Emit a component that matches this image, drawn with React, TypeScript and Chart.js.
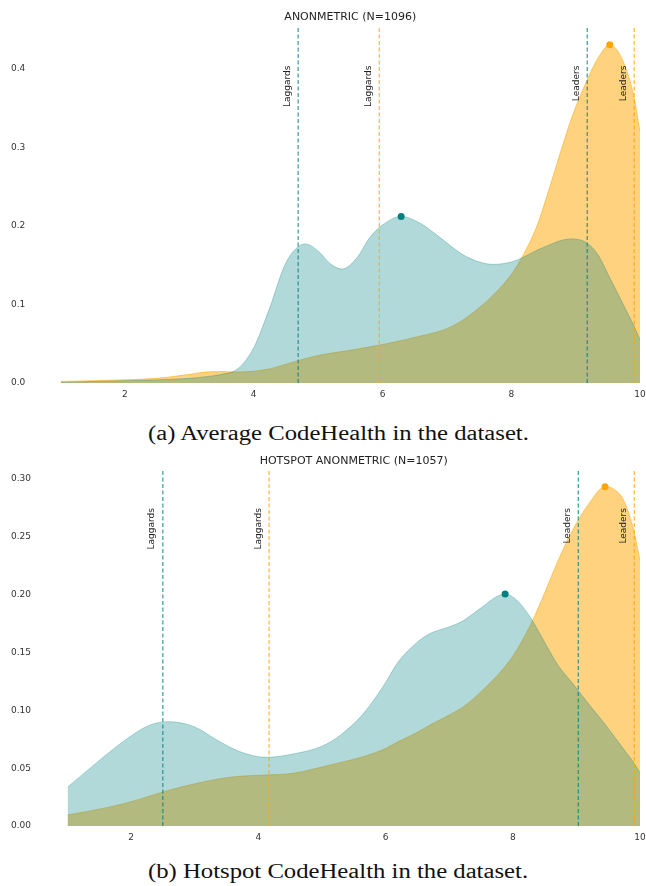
import React, { useEffect, useRef } from 'react';
import { Chart, registerables } from 'chart.js';

Chart.register(...registerables);

// ---------- (a) Average CodeHealth ----------
const aTitle = 'ANONMETRIC (N=1096)';
const aX = [1, 1.5, 2, 2.5, 3, 3.25, 3.5, 3.75, 4, 4.25, 4.5, 4.8, 5.0, 5.2, 5.37, 5.6, 5.8, 6.0, 6.29, 6.55, 6.85, 7.05, 7.3, 7.72, 8.0, 8.16, 8.4, 8.6, 8.8, 8.94, 9.18, 9.35, 9.53, 9.74, 9.91, 10];
const aTeal = [0.001, 0.002, 0.003, 0.004, 0.006, 0.008, 0.011, 0.018, 0.045, 0.096, 0.153, 0.177, 0.168, 0.151, 0.145, 0.159, 0.185, 0.201, 0.212, 0.205, 0.188, 0.175, 0.161, 0.151, 0.154, 0.159, 0.169, 0.176, 0.182, 0.1834, 0.178, 0.163, 0.134, 0.1, 0.072, 0.055];
const aOrange = [0.002, 0.003, 0.004, 0.006, 0.011, 0.014, 0.0145, 0.014, 0.015, 0.018, 0.024, 0.031, 0.035, 0.038, 0.04, 0.043, 0.046, 0.049, 0.054, 0.059, 0.065, 0.071, 0.083, 0.112, 0.138, 0.159, 0.2, 0.25, 0.303, 0.338, 0.386, 0.414, 0.4306, 0.409, 0.363, 0.32];
const aPeakTeal = [6.29, 0.212];
const aPeakOrange = [9.53, 0.4306];
const aTealLines = [4.69, 9.18];
const aOrangeLines = [5.95, 9.91];
const aYMax = 0.4535;
const aYTicks = [0, 0.1, 0.2, 0.3, 0.4];
const aLabelY = 0.404;
const aCaption = '(a) Average CodeHealth in the dataset.';

// ---------- (b) Hotspot CodeHealth ----------
const bTitle = 'HOTSPOT ANONMETRIC (N=1057)';
const bX = [1, 1.4, 1.9, 2.3, 2.6, 3.0, 3.35, 3.7, 4.13, 4.55, 5.0, 5.3, 5.65, 6.0, 6.2, 6.5, 6.7, 7.0, 7.22, 7.46, 7.88, 8.06, 8.27, 8.45, 8.7, 8.94, 9.2, 9.45, 9.6, 9.75, 9.9, 10];
const bTeal = [0.0335, 0.052, 0.074, 0.0874, 0.0902, 0.0857, 0.0744, 0.0645, 0.0594, 0.0623, 0.069, 0.079, 0.097, 0.124, 0.142, 0.159, 0.1665, 0.1722, 0.1775, 0.187, 0.2007, 0.1955, 0.181, 0.164, 0.14, 0.1234, 0.105, 0.088, 0.077, 0.066, 0.055, 0.046];
const bOrange = [0.0095, 0.0135, 0.0195, 0.026, 0.031, 0.0365, 0.0405, 0.043, 0.0441, 0.0456, 0.051, 0.055, 0.06, 0.067, 0.073, 0.081, 0.0874, 0.096, 0.103, 0.114, 0.138, 0.152, 0.173, 0.195, 0.228, 0.256, 0.279, 0.2935, 0.291, 0.281, 0.256, 0.23];
const bPeakTeal = [7.88, 0.2007];
const bPeakOrange = [9.45, 0.2935];
const bTealLines = [2.5, 9.03];
const bOrangeLines = [4.17, 9.91];
const bYMax = 0.3085;
const bYTicks = [0, 0.05, 0.1, 0.15, 0.2, 0.25, 0.3];
const bLabelY = 0.275;
const bCaption = '(b) Hotspot CodeHealth in the dataset.';

const xTicks = [2, 4, 6, 8, 10];
const lineLabels = ['Laggards', 'Leaders'];

const TEAL = 'rgb(0,128,128)';
const ORANGE = 'rgb(255,165,0)';
const FONT = 'DejaVu Sans';

type Cfg = {
  title: string;
  xs: number[];
  teal: number[];
  orange: number[];
  peakTeal: number[];
  peakOrange: number[];
  tealLines: number[];
  orangeLines: number[];
  yMax: number;
  yTicks: number[];
  decimals: number;
  labelY: number;
  plotLeft: number;
  plotTop: number;
  titleY: number;
  xAxisHeight: number;
  top: number;
};

const labelPlugin = {
  id: 'vlineLabels',
  afterDatasetsDraw(chart: any) {
    const cfg: Cfg = chart.options.plugins.vlineLabels.cfg;
    const { ctx, scales, chartArea } = chart;
    const all = [...cfg.tealLines.map((v, i) => [v, i]), ...cfg.orangeLines.map((v, i) => [v, i])];
    ctx.save();
    ctx.fillStyle = '#222';
    ctx.font = `9px "${FONT}"`;
    ctx.textAlign = 'right';
    ctx.textBaseline = 'alphabetic';
    for (const [v, i] of all) {
      const px = scales.x.getPixelForValue(v);
      const py = scales.y.getPixelForValue(cfg.labelY);
      ctx.save();
      ctx.translate(px - 8.5, py);
      ctx.rotate(-Math.PI / 2);
      ctx.fillText(lineLabels[i], 0, 0);
      ctx.restore();
    }
    // title centred over the plot area
    ctx.fillStyle = '#222';
    ctx.font = `11px "${FONT}"`;
    ctx.textAlign = 'center';
    ctx.textBaseline = 'middle';
    ctx.fillText(cfg.title, (chartArea.left + chartArea.right) / 2, cfg.titleY);
    ctx.restore();
  },
};

function buildConfig(cfg: Cfg): any {
  const pts = (ys: number[]) => cfg.xs.map((x, i) => ({ x, y: ys[i] }));
  const vline = (v: number, color: string) => ({
    type: 'line',
    data: [{ x: v, y: 0 }, { x: v, y: cfg.yMax }],
    borderColor: color,
    borderWidth: 1.2,
    borderDash: [4, 2.5],
    pointRadius: 0,
    fill: false,
  });
  const datasets: any[] = [
    { type: 'line', data: [{ x: cfg.peakTeal[0], y: cfg.peakTeal[1] }], showLine: false, pointRadius: 3.5, pointBackgroundColor: TEAL, pointBorderWidth: 0, pointBorderColor: TEAL },
    { type: 'line', data: [{ x: cfg.peakOrange[0], y: cfg.peakOrange[1] }], showLine: false, pointRadius: 3.5, pointBackgroundColor: ORANGE, pointBorderWidth: 0, pointBorderColor: ORANGE },
    ...cfg.tealLines.map((v) => vline(v, 'rgba(0,128,128,0.8)')),
    ...cfg.orangeLines.map((v) => vline(v, 'rgba(255,165,0,0.8)')),
    {
      type: 'line', data: pts(cfg.teal), fill: 'origin',
      backgroundColor: 'rgba(0,128,128,0.3)', borderColor: 'rgba(0,128,128,0.3)', borderWidth: 1,
      pointRadius: 0, cubicInterpolationMode: 'monotone',
    },
    {
      type: 'line', data: pts(cfg.orange), fill: 'origin',
      backgroundColor: 'rgba(255,165,0,0.5)', borderColor: 'rgba(255,165,0,0.5)', borderWidth: 1,
      pointRadius: 0, cubicInterpolationMode: 'monotone',
    },
  ];
  return {
    type: 'line',
    data: { datasets },
    plugins: [labelPlugin],
    options: {
      responsive: false,
      animation: false,
      devicePixelRatio: 1,
      layout: { padding: { left: 11, right: 0, top: cfg.plotTop, bottom: 0 } },
      plugins: {
        legend: { display: false },
        tooltip: { enabled: false },
        title: { display: false },
        vlineLabels: { cfg },
      },
      scales: {
        x: {
          type: 'linear',
          min: 1,
          max: 10,
          grid: { display: false, drawTicks: false },
          border: { display: false },
          afterBuildTicks: (s: any) => { s.ticks = xTicks.map((v) => ({ value: v })); },
          afterFit: (s: any) => {
            s.height = cfg.xAxisHeight;
            s.paddingRight = 6;
            s.paddingLeft = 0;
          },
          ticks: {
            color: '#333',
            font: { family: FONT, size: 9 },
            padding: 6,
            maxRotation: 0,
            callback: (v: number) => String(v),
          },
        },
        y: {
          type: 'linear',
          min: 0,
          max: cfg.yMax,
          grid: { display: false, drawTicks: false },
          border: { display: false },
          afterBuildTicks: (s: any) => { s.ticks = cfg.yTicks.map((v) => ({ value: v })); },
          afterFit: (s: any) => { s.width = cfg.plotLeft - 11; },
          ticks: {
            color: '#333',
            font: { family: FONT, size: 9 },
            crossAlign: 'far',
            callback: (v: number) => Number(v).toFixed(cfg.decimals),
          },
        },
      },
    },
  };
}

function KdeChart({ cfg }: { cfg: Cfg }) {
  const ref = useRef<HTMLCanvasElement>(null);
  useEffect(() => {
    const chart = new Chart(ref.current as HTMLCanvasElement, buildConfig(cfg));
    return () => chart.destroy();
  }, [cfg]);
  return (
    <canvas
      ref={ref}
      width={646}
      height={410}
      style={{ position: 'absolute', left: 0, top: cfg.top, width: 646, height: 410 }}
    />
  );
}

const cfgA: Cfg = {
  title: aTitle, xs: aX, teal: aTeal, orange: aOrange, peakTeal: aPeakTeal, peakOrange: aPeakOrange,
  tealLines: aTealLines, orangeLines: aOrangeLines, yMax: aYMax, yTicks: aYTicks, decimals: 1,
  labelY: aLabelY, plotLeft: 60.6, plotTop: 26.7, titleY: 17.5, xAxisHeight: 27, top: 0,
};

const cfgB: Cfg = {
  title: bTitle, xs: bX, teal: bTeal, orange: bOrange, peakTeal: bPeakTeal, peakOrange: bPeakOrange,
  tealLines: bTealLines, orangeLines: bOrangeLines, yMax: bYMax, yTicks: bYTicks, decimals: 2,
  labelY: bLabelY, plotLeft: 67.4, plotTop: 24.3, titleY: 16, xAxisHeight: 29, top: 445,
};

const captionStyle = (top: number): React.CSSProperties => ({
  position: 'absolute',
  left: 148,
  top,
  whiteSpace: 'nowrap',
  fontFamily: '"Liberation Serif", "Times New Roman", serif',
  fontSize: 20.5,
  lineHeight: '24px',
  color: '#111',
  transform: 'scaleX(1.205)',
  transformOrigin: 'left center',
});

export default function App() {
  return (
    <div style={{ position: 'relative', width: 646, height: 886, overflow: 'hidden', background: '#fff' }}>
      <style>{'body{margin:0;background:#fff;}'}</style>
      <KdeChart cfg={cfgA} />
      <div style={captionStyle(421)}>{aCaption}</div>
      <KdeChart cfg={cfgB} />
      <div style={captionStyle(859)}>{bCaption}</div>
    </div>
  );
}
